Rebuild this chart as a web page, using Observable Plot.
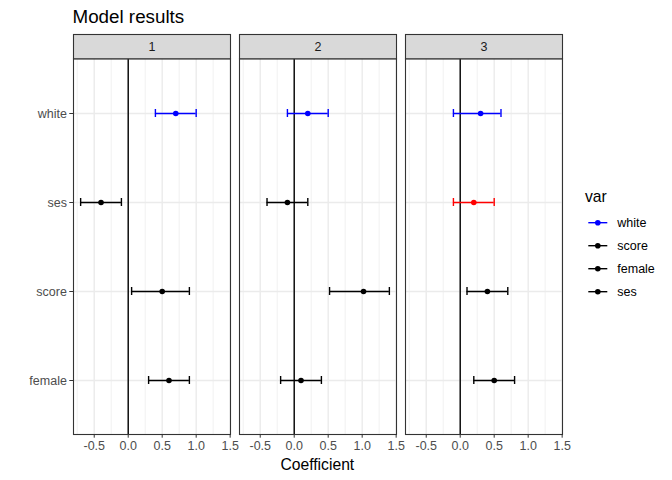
<!DOCTYPE html>
<html>
<head>
<meta charset="utf-8">
<script src="https://cdn.jsdelivr.net/npm/d3@7"></script>
<script src="https://cdn.jsdelivr.net/npm/@observablehq/plot@0.6"></script>
<style>
  body { margin: 0; background: #fff; font-family: "Liberation Sans", Arial, sans-serif; }
  #wrap { position: relative; width: 672px; height: 480px; overflow: hidden; }
  #title { position: absolute; left: 72.5px; top: 6px; font-size: 18.8px; line-height: 22px; color: #000; }
  #chart { position: absolute; left: 0; top: 30px; }
  #xlabel { position: absolute; left: 0; width: 634.6px; text-align: center; top: 456px; font-size: 15.7px; line-height: 18px; color: #000; }
  #legend { position: absolute; left: 575px; top: 180px; }
</style>
</head>
<body>
<div id="wrap">
  <div id="title">Model results</div>
  <div id="chart"></div>
  <div id="xlabel">Coefficient</div>
  <div id="legend"></div>
</div>
<script>
// ---- data ----
const models = ["1", "2", "3"];
const terms = ["white", "ses", "score", "female"];   // top to bottom
const est1 = [0.7, -0.4, 0.5, 0.6];
const lo1  = [0.4, -0.7, 0.05, 0.3];
const hi1  = [1.0, -0.1, 0.9, 0.9];
const est2 = [0.2, -0.1, 1.02, 0.1];
const lo2  = [-0.1, -0.4, 0.52, -0.2];
const hi2  = [0.5, 0.2, 1.4, 0.4];
const est3 = [0.3, 0.2, 0.4, 0.5];
const lo3  = [-0.1, -0.1, 0.1, 0.2];
const hi3  = [0.6, 0.5, 0.7, 0.8];
const col1 = ["blue", "black", "black", "black"];
const col2 = ["blue", "black", "black", "black"];
const col3 = ["blue", "red", "black", "black"];
const majorTicks = [-0.5, 0, 0.5, 1.0, 1.5];
const minorTicks = [-0.75, -0.25, 0.25, 0.75, 1.25];
const legendLabels = ["white", "score", "female", "ses"];
const legendColors = ["blue", "black", "black", "black"];
const legendTitle = "var";

const ests = [est1, est2, est3], los = [lo1, lo2, lo3], his = [hi1, hi2, hi3], cols = [col1, col2, col3];
const rows = models.flatMap((m, i) => terms.map((t, j) => ({
  model: m, term: t, est: ests[i][j], lo: los[i][j], hi: his[i][j], color: cols[i][j]
})));

const fmt = d => d.toFixed(1);
const H = 450, mTop = 28.3, mBottom = 46;
const plotH = H - mTop - mBottom;
const fs = 12.5;

const chart = Plot.plot({
  width: 672,
  height: H,
  marginLeft: 72.3,
  marginRight: 109.7,
  marginTop: mTop,
  marginBottom: mBottom,
  style: { fontFamily: "'Liberation Sans', Arial, sans-serif", background: "#fff" },
  fx: { domain: models, paddingInner: 0.053, paddingOuter: 0, axis: null, label: null },
  x: { domain: [-0.805, 1.505], label: null, axis: null },
  y: { domain: terms, type: "band", paddingInner: 0.9106, paddingOuter: 0.5553, label: null, axis: null },
  color: { type: "identity" },
  marks: [
    Plot.ruleX(minorTicks, { stroke: "#EBEBEB", strokeWidth: 0.7 }),
    Plot.ruleX(majorTicks, { stroke: "#EBEBEB", strokeWidth: 1.4 }),
    Plot.ruleY(terms, { y: d => d, stroke: "#EBEBEB", strokeWidth: 1.4 }),
    Plot.ruleX([0], { stroke: "#000", strokeWidth: 1.4 }),
    Plot.ruleY(rows, { fx: "model", y: "term", x1: "lo", x2: "hi", stroke: "color", strokeWidth: 1.4 }),
    Plot.tickX(rows, { fx: "model", y: "term", x: "lo", stroke: "color", strokeWidth: 1.4 }),
    Plot.tickX(rows, { fx: "model", y: "term", x: "hi", stroke: "color", strokeWidth: 1.4 }),
    Plot.dot(rows, { fx: "model", y: "term", x: "est", fill: "color", r: 2.8 }),
    Plot.frame({ stroke: "#333333", strokeWidth: 1.1 }),
    Plot.frame({ fill: "#D9D9D9", stroke: "#333333", strokeWidth: 1.1, insetTop: -24.3, insetBottom: plotH }),
    Plot.text(models, { fx: d => d, text: d => d, frameAnchor: "top", lineAnchor: "middle", dy: -12.15, fill: "#1A1A1A", fontSize: fs }),
    Plot.axisX(majorTicks, { tickSize: 3.7, tickPadding: 2.9, tickFormat: fmt, stroke: "#333333", fill: "#4D4D4D", fontSize: fs, label: null }),
    Plot.axisY({ tickSize: 3.7, tickPadding: 2.9, stroke: "#333333", fill: "#4D4D4D", fontSize: fs, label: null })
  ]
});
document.getElementById("chart").appendChild(chart);

// ---- legend ----
const lg = d3.select("#legend").append("svg").attr("width", 97).attr("height", 130)
  .style("font-family", "'Liberation Sans', Arial, sans-serif");
lg.append("text").attr("x", 10).attr("y", 22).attr("font-size", 15.7).attr("fill", "#000").text(legendTitle);
const items = lg.selectAll("g.item").data(legendLabels).join("g")
  .attr("transform", (d, i) => `translate(0, ${42.7 + i * 23})`);
items.append("line").attr("x1", 13.3).attr("x2", 32.3).attr("y1", 0).attr("y2", 0)
  .attr("stroke", (d, i) => legendColors[i]).attr("stroke-width", 1.4);
items.append("circle").attr("cx", 22.8).attr("cy", 0).attr("r", 2.8).attr("fill", (d, i) => legendColors[i]);
items.append("text").attr("x", 42.3).attr("y", 0).attr("dy", "0.35em").attr("font-size", fs).attr("fill", "#000").text(d => d);
</script>
</body>
</html>
